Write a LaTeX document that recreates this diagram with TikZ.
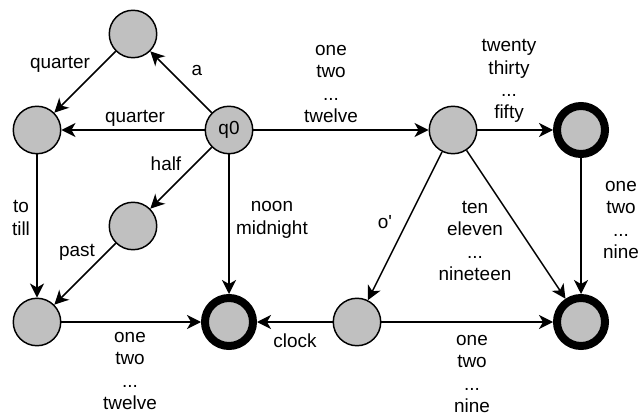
\documentclass[tikz,border=0pt]{standalone}
\usepackage{fontspec}
\setmainfont{Liberation Sans}
\usetikzlibrary{arrows.meta}
\definecolor{stgrey}{RGB}{192,192,192}
\newcommand{\lblfont}{\fontsize{14.2}{16.7}\selectfont}

\begin{document}
\begin{tikzpicture}[x=0.75pt,y=-0.75pt,
		every node/.append style={font=\lblfont},
		state/.style={circle,draw=black,fill=stgrey,line width=1.1pt,minimum size=35.6pt,inner sep=0pt},
		accept/.style={state,line width=6pt,minimum size=36pt},
		trans/.style={line width=1.1pt,-{Stealth[length=10.5pt,width=10.5pt,inset=3pt]}},
		lbl/.style={align=center,inner sep=0pt}]
		\useasboundingbox (0,0) rectangle (639,417);
		% states
		\node[state] (q0) at (229,130) {q0};
		\node[state] (qa) at (133,34) {};
		\node[state] (qq) at (37,130) {};
		\node[state] (qh) at (133,226) {};
		\node[state] (qp) at (37,322) {};
		\node[accept] (f1) at (229,322) {};
		\node[state] (q1) at (453,130) {};
		\node[accept] (f2) at (581,130) {};
		\node[state] (q2) at (357,322) {};
		\node[accept] (f3) at (581,322) {};
		% hour part
		\draw[trans] (q0) -- (qa);
		\node[lbl] (l-a) at (197,70) {a};
		\draw[trans] (qa) -- (qq);
		\node[lbl] (l-qa) at (60,64) {quarter};
		\draw[trans] (q0) -- (qq);
		\node[lbl] (l-q) at (135,118) {quarter};
		\draw[trans] (q0) -- (qh);
		\node[lbl] (l-h) at (166,164) {half};
		\draw[trans] (qq) -- (qp);
		\node[lbl] (l-to) at (21,218) {to\\till};
		\draw[trans] (qh) -- (qp);
		\node[lbl] (l-p) at (77,252) {past};
		\draw[trans] (q0) -- (f1);
		\node[lbl] (l-n) at (272,220) {noon\\midnight};
		\draw[trans] (qp) -- (f1);
		\node[lbl] (l-h12) at (130,371) {one\\two\\...\\twelve};
		% minute part
		\draw[trans] (q0) -- (q1);
		\node[lbl] (l-12) at (331,84) {one\\two\\...\\twelve};
		\draw[trans] (q1) -- (f2);
		\node[lbl] (l-50) at (509,81) {twenty\\thirty\\...\\fifty};
		\draw[trans] (f2) -- (f3);
		\node[lbl] (l-9a) at (621,220) {one\\two\\...\\nine};
		\draw[trans] (q1) -- (q2);
		\node[lbl] (l-o) at (385,222) {o\textquotesingle};
		\draw[trans] (q1) -- (f3);
		\node[lbl] (l-19) at (475,241) {ten\\eleven\\...\\nineteen};
		\draw[trans] (q2) -- (f1);
		\node[lbl] (l-c) at (295,341) {clock};
		\draw[trans] (q2) -- (f3);
		\node[lbl] (l-9b) at (472,374) {one\\two\\...\\nine};
	\end{tikzpicture}
\end{document}
